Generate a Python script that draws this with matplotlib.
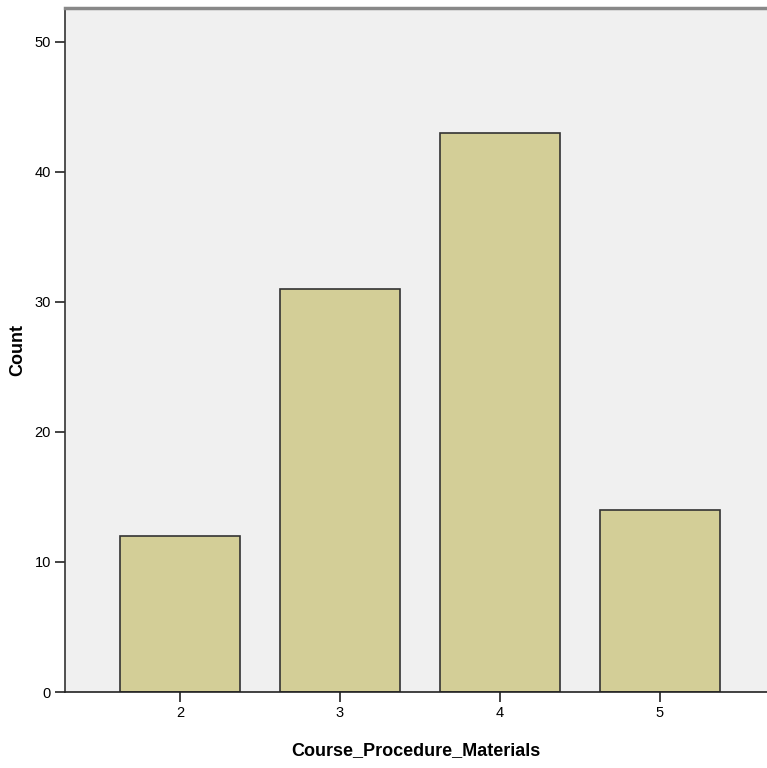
import matplotlib
matplotlib.use('Agg')
from matplotlib import pyplot as plt

categories = ["2", "3", "4", "5"]
counts = [12, 31, 43, 14]
y_ticks = [0, 10, 20, 30, 40, 50]

plt.rcParams['font.family'] = ['Liberation Sans', 'DejaVu Sans']

fig = plt.figure(figsize=(7.67, 7.68), dpi=100)
ax = fig.add_axes([65/767, 76/768, 1 - 65/767, 684/768])
ax.set_facecolor("#F0F0F0")

positions = [int(c) for c in categories]
ax.bar(positions, counts, width=0.75, color="#D3CE97", edgecolor="#333333", linewidth=1.2, zorder=2)

ax.set_xlim(1.281, 5.669)
ax.set_ylim(0, 52.6)
ax.set_xticks(positions)
ax.set_xticklabels(categories)
ax.set_yticks(y_ticks)
ax.tick_params(axis="both", labelsize=10.5, length=7, width=1.2, color="#222222", pad=3)

ax.spines["right"].set_visible(False)
ax.spines["top"].set_color("#888888")
ax.spines["top"].set_linewidth(2.5)
ax.spines["left"].set_color("#333333")
ax.spines["bottom"].set_color("#222222")
ax.spines["left"].set_linewidth(1.2)
ax.spines["bottom"].set_linewidth(1.2)

ax.set_ylabel("Count", fontsize=13, fontweight="bold", va="center")
ax.yaxis.set_label_coords(-0.067, 0.5)
ax.set_xlabel("Course_Procedure_Materials", fontsize=13, fontweight="bold", va="center")
ax.xaxis.set_label_coords(0.5, -0.085)

fig.savefig("out.png", dpi=100, facecolor="white")
